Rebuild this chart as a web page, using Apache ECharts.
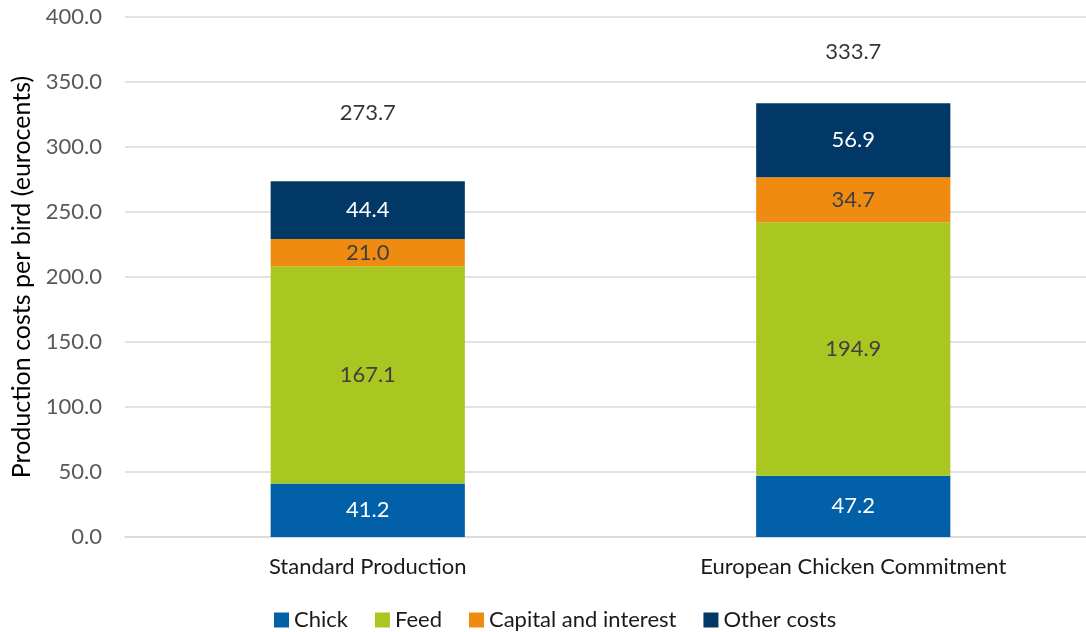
<!DOCTYPE html>
<html><head><meta charset="utf-8">
<script src="https://cdn.jsdelivr.net/npm/echarts@6/dist/echarts.min.js"></script>
<style>html,body{margin:0;padding:0;background:#fff}#c{width:1086px;height:632px}</style>
</head><body><div id="c"></div>
<script>
const categories = ['Standard Production', 'European Chicken Commitment'];
const chick = [41.2, 47.2];
const feed = [167.1, 194.9];
const capital = [21.0, 34.7];
const other = [44.4, 56.9];
const totals = [273.7, 333.7];
const totalOffsets = [-68, -51];
const yTicks = { min: 0, max: 400, interval: 50 };

const FONT = 'Lato';
const chart = echarts.init(document.getElementById('c'));
function seg(name, data, color, labelColor) {
  return {
    name, type: 'bar', stack: 'a', data, barWidth: '40%',
    itemStyle: { color },
    label: { show: true, position: 'inside', color: labelColor, fontSize: 22, fontFamily: FONT,
      formatter: p => p.value.toFixed(1) },
    emphasis: { disabled: true }
  };
}
chart.setOption({
  animation: false,
  textStyle: { fontFamily: FONT },
  grid: { left: 125, top: 17, width: 971, height: 520, containLabel: false, outerBoundsMode: 'none' },
  legend: {
    top: 604, left: 269, itemWidth: 15, itemHeight: 15, itemGap: 27,
    icon: 'rect',
    textStyle: { fontSize: 22, color: '#1a1a1a', fontFamily: FONT },
    data: ['Chick', 'Feed', 'Capital and interest', 'Other costs']
  },
  xAxis: {
    type: 'category', data: categories,
    axisLine: { show: true, lineStyle: { color: '#d9d9d9', width: 1.5 } },
    axisTick: { show: false },
    axisLabel: { fontSize: 22, color: '#1a1a1a', margin: 19, fontFamily: FONT }
  },
  yAxis: {
    type: 'value', min: yTicks.min, max: yTicks.max, interval: yTicks.interval,
    name: 'Production costs per bird (eurocents)', nameLocation: 'middle', nameGap: 86,
    nameTextStyle: { fontSize: 25, color: '#000', fontFamily: FONT },
    axisLine: { show: false }, axisTick: { show: false },
    axisLabel: { fontSize: 22, color: '#595959', margin: 23, fontFamily: FONT,
      formatter: v => v.toFixed(1) },
    splitLine: { lineStyle: { color: '#d9d9d9', width: 1.5 } }
  },
  series: [
    seg('Chick', chick, '#0160a8', '#ffffff'),
    seg('Feed', feed, '#a9c720', '#404040'),
    seg('Capital and interest', capital, '#ef8b10', '#404040'),
    seg('Other costs', other, '#023865', '#ffffff'),
    {
      name: 'Total', type: 'scatter', symbolSize: 1, itemStyle: { color: 'rgba(0,0,0,0)' },
      data: totals.map((v, i) => ({ value: v, label: { offset: [0, totalOffsets[i]] } })),
      label: { show: true, position: 'inside', color: '#000', fontSize: 22, fontFamily: FONT,
        formatter: p => p.value.toFixed(1) },
      emphasis: { disabled: true }, silent: true
    }
  ]
});
</script></body></html>
